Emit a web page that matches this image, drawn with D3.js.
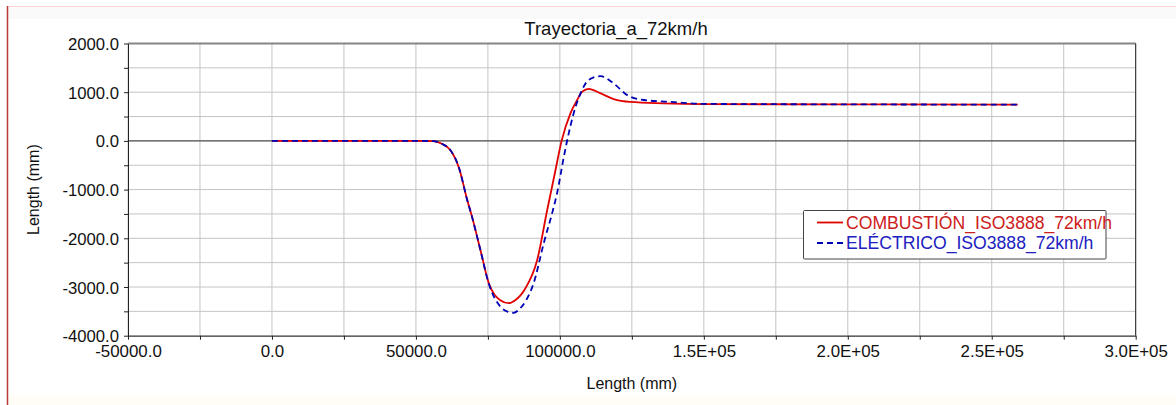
<!DOCTYPE html>
<html><head><meta charset="utf-8">
<script src="https://cdn.jsdelivr.net/npm/d3@7"></script>
<style>
html,body{margin:0;padding:0;background:#fff;}
svg{display:block;font-family:"Liberation Sans",Arial,sans-serif;}
</style></head>
<body>
<svg id="chart" width="1176" height="405"></svg>
<script>
const chartTitle = "Trayectoria_a_72km/h";
const xAxisLabel = "Length (mm)";
const yAxisLabel = "Length (mm)";
const seriesNames = ["COMBUSTIÓN_ISO3888_72km/h", "ELÉCTRICO_ISO3888_72km/h"];
const xDomain = [-50000, 300000];
const yDomain = [-4000, 2000];
const xTicks = [-50000, -25000, 0, 25000, 50000, 75000, 100000, 125000, 150000, 175000, 200000, 225000, 250000, 275000, 300000];
const xTickLabels = ["-50000.0", "", "0.0", "", "50000.0", "", "100000.0", "", "1.5E+05", "", "2.0E+05", "", "2.5E+05", "", "3.0E+05"];
const yTicks = [-4000, -3500, -3000, -2500, -2000, -1500, -1000, -500, 0, 500, 1000, 1500, 2000];
const yTickLabels = ["-4000.0", "", "-3000.0", "", "-2000.0", "", "-1000.0", "", "0.0", "", "1000.0", "", "2000.0"];

const xCombustion = [0, 50000, 56000, 59000, 62000, 65000, 67800, 69500, 72400, 75300, 79300, 82200, 84500, 88000, 92100, 95600, 98200, 100600, 103700, 106000, 107800, 110000, 114000, 118700, 124500, 136000, 150000, 200000, 259000];
const yCombustion = [0, 0, -5, -60, -190, -560, -1210, -1560, -2240, -2920, -3270, -3330, -3270, -3030, -2450, -1420, -680, 0, 570, 840, 1010, 1070, 980, 860, 800, 770, 755, 750, 745];
const xElectrico = [0, 50000, 56000, 59000, 62000, 65000, 67800, 69500, 72400, 75300, 79300, 82000, 84000, 86000, 88300, 90900, 94400, 97900, 99000, 101400, 103100, 104800, 107200, 110000, 114100, 118700, 123400, 129200, 137300, 150000, 200000, 259000];
const yElectrico = [0, 0, -5, -60, -190, -560, -1210, -1560, -2240, -2930, -3400, -3510, -3530, -3450, -3270, -2920, -2100, -1350, -1080, -320, 160, 570, 980, 1250, 1330, 1180, 940, 840, 805, 760, 750, 745];

const svg = d3.select("#chart");

// page decorations
svg.append("rect").attr("x", 7).attr("y", 7).attr("width", 1169).attr("height", 12).attr("fill", "#fafafa");
svg.append("rect").attr("x", 7).attr("y", 395).attr("width", 1169).attr("height", 10).attr("fill", "#fffdf6");
svg.append("line").attr("x1", 7).attr("x2", 1176).attr("y1", 6.5).attr("y2", 6.5).attr("stroke", "#ffd4d4").attr("stroke-width", 1);
svg.append("line").attr("x1", 7.5).attr("x2", 7.5).attr("y1", 6).attr("y2", 405).attr("stroke", "#b83a3a").attr("stroke-width", 1.5);

const L = 128, R = 1135.7, T = 43.5, B = 335.7;
const x = d3.scaleLinear().domain(xDomain).range([L, R]);
const y = d3.scaleLinear().domain(yDomain).range([B, T]);

// grid
const g = svg.append("g");
g.selectAll(".vg").data(xTicks).join("line")
  .attr("x1", d => x(d)).attr("x2", d => x(d)).attr("y1", T).attr("y2", B)
  .attr("stroke", "#c4c4c4").attr("stroke-width", 1);
g.selectAll(".hg").data(yTicks).join("line")
  .attr("x1", L).attr("x2", R).attr("y1", d => y(d)).attr("y2", d => y(d))
  .attr("stroke", "#c4c4c4").attr("stroke-width", 1);

// zero line
svg.append("line").attr("x1", L).attr("x2", R).attr("y1", y(0)).attr("y2", y(0))
  .attr("stroke", "#333").attr("stroke-width", 1);

// frame
svg.append("line").attr("x1", L).attr("x2", R).attr("y1", T).attr("y2", T).attr("stroke", "#858585").attr("stroke-width", 2);
svg.append("line").attr("x1", R).attr("x2", R).attr("y1", T).attr("y2", B).attr("stroke", "#222").attr("stroke-width", 1);

// axes
const xAxis = d3.axisBottom(x).tickValues(xTicks).tickSize(4).tickSizeOuter(0)
  .tickFormat((d, i) => xTickLabels[i]);
const gx = svg.append("g").attr("transform", `translate(0,${B})`).call(xAxis);
gx.select(".domain").attr("stroke", "#222");
gx.selectAll(".tick line").attr("stroke", "#222");
gx.selectAll(".tick text").attr("y", 21).attr("dy", 0).attr("font-size", 16.9).attr("fill", "#111")
  .attr("font-family", "'Liberation Sans', Arial, sans-serif");

const yAxis = d3.axisLeft(y).tickValues(yTicks).tickSize(4).tickSizeOuter(0)
  .tickFormat((d, i) => yTickLabels[i]);
const gy = svg.append("g").attr("transform", `translate(${L},0)`).call(yAxis);
gy.select(".domain").attr("stroke", "#222");
gy.selectAll(".tick line").attr("stroke", "#222");
gy.selectAll(".tick text").attr("x", -9).attr("dy", "0.36em").attr("font-size", 16.7).attr("fill", "#111")
  .attr("font-family", "'Liberation Sans', Arial, sans-serif");

// lines
const line = d3.line().x(d => x(d[0])).y(d => y(d[1])).curve(d3.curveMonotoneX);
const comb = xCombustion.map((v, i) => [v, yCombustion[i]]);
const elec = xElectrico.map((v, i) => [v, yElectrico[i]]);
svg.append("path").attr("d", line(comb)).attr("fill", "none").attr("stroke", "#e00000").attr("stroke-width", 1.8);
svg.append("path").attr("d", line(elec)).attr("fill", "none").attr("stroke", "#0000b4").attr("stroke-width", 1.8)
  .attr("stroke-dasharray", "6,4");

// title and labels
svg.append("text").attr("x", 616).attr("y", 35).attr("text-anchor", "middle").attr("font-size", 18.5).attr("fill", "#111").text(chartTitle);
svg.append("text").attr("x", (L + R) / 2).attr("y", 389).attr("text-anchor", "middle").attr("font-size", 16).attr("fill", "#111").text(xAxisLabel);
svg.append("text").attr("transform", `translate(38.5,${(T + B) / 2}) rotate(-90)`).attr("text-anchor", "middle").attr("font-size", 16).attr("fill", "#111").text(yAxisLabel);

// legend
const lg = svg.append("g");
lg.append("rect").attr("x", 803.5).attr("y", 210.5).attr("width", 302.5).attr("height", 48.5)
  .attr("fill", "#fff").attr("stroke", "#444").attr("stroke-width", 1).attr("rx", 1);
const legColors = ["#e00000", "#0000b4"];
const legText = ["#cc2020", "#2020c0"];
const legDash = [null, "6,4"];
seriesNames.forEach((name, i) => {
  const cy = 222.5 + i * 20.5;
  lg.append("line").attr("x1", 817).attr("x2", 843).attr("y1", cy).attr("y2", cy)
    .attr("stroke", legColors[i]).attr("stroke-width", 1.8).attr("stroke-dasharray", legDash[i]);
  lg.append("text").attr("x", 846).attr("y", cy + 6).attr("font-size", 17.6).attr("fill", legText[i]).text(name);
});
</script>
</body></html>
